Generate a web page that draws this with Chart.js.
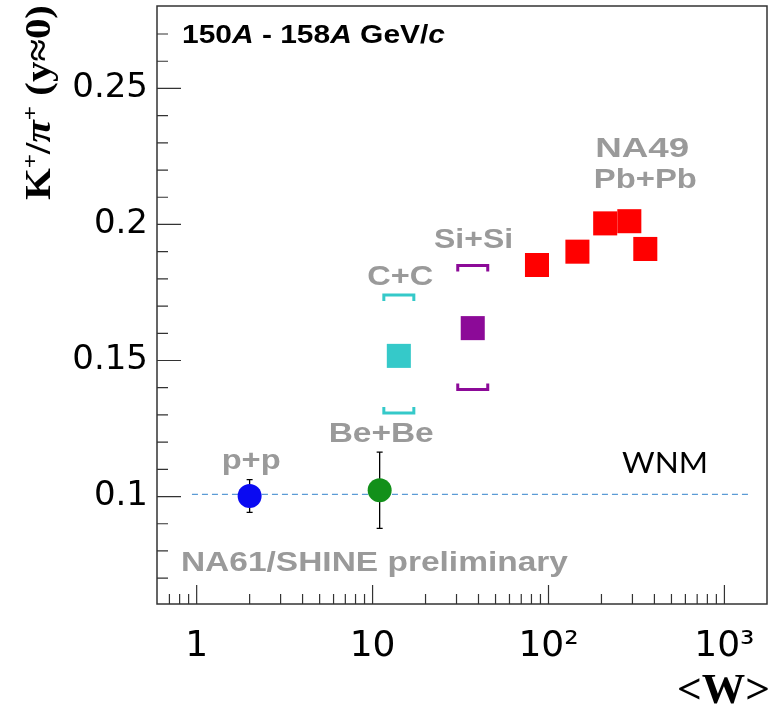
<!DOCTYPE html>
<html><head><meta charset="utf-8">
<script src="https://cdn.jsdelivr.net/npm/chart.js@4/dist/chart.umd.min.js"></script>
<style>html,body{margin:0;padding:0;background:#fff}#wrap{width:772px;height:707px}</style>
</head><body><div id="wrap"><canvas id="c" width="772" height="707"></canvas></div>
<script>
// ---- data ----
const ppW = [2.0],   ppRatio = [0.1002], ppErr = [0.0060];
const beW = [10.97], beRatio = [0.1023], beErr = [0.0140];
const ccW = [14.1],  ccRatio = [0.1517], ccSysHigh = [0.1741], ccSysLow = [0.1307];
const siW = [37.1],  siRatio = [0.1619], siSysHigh = [0.1849], siSysLow = [0.1393];
const pbW = [86, 146, 210, 288, 355];
const pbRatio = [0.1851, 0.1900, 0.2004, 0.2012, 0.1910];
const wnmW = [0.94, 1400], wnmRatio = [0.1008, 0.1008];

const xMajorTicks = [1, 10, 100, 1000];
const xTickLabels = ['1', '10', '10²', '10³'];
const xMinorTicks = [0.7,0.8,0.9,2,3,4,5,6,7,8,9,20,30,40,50,60,70,80,90,200,300,400,500,600,700,800,900];
const yMajorTicks = [0.1, 0.15, 0.2, 0.25];
const yTickLabels = ['0.1', '0.15', '0.2', '0.25'];
const yMinorTicks = [0.07,0.08,0.09,0.11,0.12,0.13,0.14,0.16,0.17,0.18,0.19,0.21,0.22,0.23,0.24,0.26,0.27];

// text annotations: [text, wValue, ratioValue, width]
const groupLabels = [
  ['p+p', 2.04, 0.1103, 59],
  ['Be+Be', 11.19, 0.1199, 105],
  ['C+C', 14.38, 0.1778, 66],
  ['Si+Si', 37.5, 0.1913, 79],
  ['NA49', 341, 0.2248, 94],
  ['Pb+Pb', 355, 0.2134, 103]
];

const pts = (xs, ys) => xs.map((x, i) => ({x: x, y: ys[i]}));

function fitText(ctx, text, x, y, font, color, width, align) {
  ctx.save();
  ctx.font = font; ctx.fillStyle = color; ctx.textBaseline = 'alphabetic'; ctx.textAlign = 'left';
  const w = ctx.measureText(text).width;
  const sx = width ? width / w : 1;
  const ww = w * sx;
  const x0 = align === 'center' ? x - ww / 2 : (align === 'right' ? x - ww : x);
  ctx.translate(x0, y); ctx.scale(sx, 1);
  ctx.fillText(text, 0, 0);
  ctx.restore();
}

function runsWidth(ctx, runs) {
  let w = 0;
  runs.forEach(r => { ctx.font = r.font; w += ctx.measureText(r.t).width; });
  return w;
}
function drawRuns(ctx, runs, x, y, width) {
  ctx.save();
  const w = runsWidth(ctx, runs);
  const sx = width / w;
  ctx.translate(x, y); ctx.scale(sx, 1);
  let cx = 0;
  ctx.textBaseline = 'alphabetic'; ctx.textAlign = 'left';
  runs.forEach(r => {
    ctx.font = r.font; ctx.fillStyle = r.color || '#000';
    ctx.fillText(r.t, cx, -(r.rise || 0));
    cx += ctx.measureText(r.t).width;
  });
  ctx.restore();
}

const decor = {
  id: 'decor',
  beforeDatasetsDraw(chart) {
    const ctx = chart.ctx, xs = chart.scales.x, ys = chart.scales.y;
    ctx.save();
    ctx.strokeStyle = '#000'; ctx.lineWidth = 1.3;
    const bar = (xv, yv, e) => {
      const px = xs.getPixelForValue(xv);
      const y1 = ys.getPixelForValue(yv + e), y2 = ys.getPixelForValue(yv - e);
      ctx.beginPath();
      ctx.moveTo(px, y1); ctx.lineTo(px, y2);
      ctx.moveTo(px - 3, y1); ctx.lineTo(px + 3, y1);
      ctx.moveTo(px - 3, y2); ctx.lineTo(px + 3, y2);
      ctx.stroke();
    };
    ppW.forEach((w, i) => bar(w, ppRatio[i], ppErr[i]));
    beW.forEach((w, i) => bar(w, beRatio[i], beErr[i]));
    ctx.restore();
  },
  afterDatasetsDraw(chart) {
    const ctx = chart.ctx, xs = chart.scales.x, ys = chart.scales.y;
    const bracket = (xv, hi, lo, color) => {
      const px = xs.getPixelForValue(xv);
      const yh = ys.getPixelForValue(hi), yl = ys.getPixelForValue(lo);
      ctx.save();
      ctx.strokeStyle = color; ctx.lineWidth = 3; ctx.lineJoin = 'miter';
      ctx.beginPath();
      ctx.moveTo(px - 15, yh + 6); ctx.lineTo(px - 15, yh); ctx.lineTo(px + 15, yh); ctx.lineTo(px + 15, yh + 6);
      ctx.moveTo(px - 15, yl - 6); ctx.lineTo(px - 15, yl); ctx.lineTo(px + 15, yl); ctx.lineTo(px + 15, yl - 6);
      ctx.stroke();
      ctx.restore();
    };
    ccW.forEach((w, i) => bracket(w, ccSysHigh[i], ccSysLow[i], '#35c9c9'));
    siW.forEach((w, i) => bracket(w, siSysHigh[i], siSysLow[i], '#8c0a98'));
  },
  afterDraw(chart) {
    const ctx = chart.ctx, xs = chart.scales.x, ys = chart.scales.y, a = chart.chartArea;
    ctx.save();
    ctx.strokeStyle = '#333'; ctx.lineWidth = 1.5;
    ctx.strokeRect(a.left, a.top, a.right - a.left, a.bottom - a.top);
    ctx.lineWidth = 1.2;
    ctx.beginPath();
    xMajorTicks.forEach(v => { const p = xs.getPixelForValue(v); ctx.moveTo(p, a.bottom); ctx.lineTo(p, a.bottom - 19); });
    xMinorTicks.forEach(v => { const p = xs.getPixelForValue(v); ctx.moveTo(p, a.bottom); ctx.lineTo(p, a.bottom - 10); });
    yMajorTicks.forEach(v => { const p = ys.getPixelForValue(v); ctx.moveTo(a.left, p); ctx.lineTo(a.left + 24, p); });
    yMinorTicks.forEach(v => { const p = ys.getPixelForValue(v); ctx.moveTo(a.left, p); ctx.lineTo(a.left + 11, p); });
    ctx.stroke();
    ctx.restore();

    groupLabels.forEach(l => {
      fitText(ctx, l[0], xs.getPixelForValue(l[1]), ys.getPixelForValue(l[2]),
        'bold 28px "Liberation Sans", Arial, sans-serif', '#9a9a9a', l[3], 'center');
    });
    fitText(ctx, 'NA61/SHINE preliminary', xs.getPixelForValue(0.814), ys.getPixelForValue(0.0727),
      'bold 28px "Liberation Sans", Arial, sans-serif', '#9a9a9a', 387, 'left');
    fitText(ctx, 'WNM', xs.getPixelForValue(262), ys.getPixelForValue(0.1087),
      '28px Lato, "Open Sans", sans-serif', '#000', 86, 'left');

    const B = 'bold 25px "Liberation Sans", Arial, sans-serif';
    const BI = 'italic bold 25px "Liberation Sans", Arial, sans-serif';
    drawRuns(ctx, [{t:'150', font:B}, {t:'A', font:BI}, {t:' - 158', font:B}, {t:'A', font:BI}, {t:' GeV/', font:B}, {t:'c', font:BI}],
      a.left + 25, a.top + 37, 263);

    const S = 'bold 36px "Liberation Serif", "Times New Roman", serif';
    const SS = 'bold 22px "Liberation Serif", "Times New Roman", serif';
    const SI = 'italic bold 36px "Liberation Serif", "Times New Roman", serif';
    ctx.save();
    ctx.translate(50, 200);
    ctx.rotate(-Math.PI / 2);
    drawRuns(ctx, [{t:'K', font:S}, {t:'+', font:SS, rise:13}, {t:'/', font:S}, {t:'π', font:SI}, {t:'+', font:SS, rise:13}, {t:' (y≈0)', font:S}],
      0, 0, 195);
    ctx.restore();

    fitText(ctx, '<W>', 770, 703, 'bold 42px "Liberation Serif", "Times New Roman", serif', '#000', 93, 'right');
  }
};

new Chart(document.getElementById('c'), {
  type: 'scatter',
  data: {
    datasets: [
      {label: 'WNM', type: 'line', data: pts(wnmW, wnmRatio), borderColor: '#5b9bd5', borderWidth: 1.2,
       borderDash: [6, 4], pointRadius: 0, fill: false, order: 10},
      {label: 'p+p', data: pts(ppW, ppRatio), pointStyle: 'circle', pointRadius: 12, backgroundColor: '#0a0af2', borderWidth: 0, order: 1},
      {label: 'Be+Be', data: pts(beW, beRatio), pointStyle: 'circle', pointRadius: 12, backgroundColor: '#12901a', borderWidth: 0, order: 1},
      {label: 'C+C', data: pts(ccW, ccRatio), pointStyle: 'rect', pointRadius: 17, backgroundColor: '#35c9c9', borderWidth: 0, order: 1},
      {label: 'Si+Si', data: pts(siW, siRatio), pointStyle: 'rect', pointRadius: 17, backgroundColor: '#8c0a98', borderWidth: 0, order: 1},
      {label: 'Pb+Pb', data: pts(pbW, pbRatio), pointStyle: 'rect', pointRadius: 17, backgroundColor: '#ff0000', borderWidth: 0, order: 1}
    ]
  },
  options: {
    responsive: false, animation: false, devicePixelRatio: 1,
    layout: {autoPadding: false, padding: {left: 0, right: 5, top: 6, bottom: 0}},
    plugins: {legend: {display: false}, tooltip: {enabled: false}},
    scales: {
      x: {
        type: 'logarithmic', min: 0.595, max: 1746,
        afterFit(s) { s.height = 103; s.paddingLeft = 0; s.paddingRight = 0; },
        afterBuildTicks(s) { s.ticks = xMajorTicks.map(v => ({value: v})); },
        ticks: {
          autoSkip: false, maxRotation: 0, minRotation: 0, padding: 21, color: '#000',
          font: {family: '"DejaVu Sans", sans-serif', size: 36},
          callback(v) { const i = xMajorTicks.indexOf(v); return i >= 0 ? xTickLabels[i] : ''; }
        },
        grid: {display: false, drawTicks: false},
        border: {display: false}
      },
      y: {
        type: 'linear', min: 0.0605, max: 0.2803,
        afterFit(s) { s.width = 157; s.paddingTop = 0; s.paddingBottom = 0; },
        afterBuildTicks(s) { s.ticks = yMajorTicks.map(v => ({value: v})); },
        ticks: {
          autoSkip: false, padding: 9, color: '#000',
          font: {family: '"DejaVu Sans", sans-serif', size: 34},
          callback(v) { const i = yMajorTicks.findIndex(t => Math.abs(t - v) < 1e-9); return i >= 0 ? yTickLabels[i] : ''; }
        },
        grid: {display: false, drawTicks: false},
        border: {display: false}
      }
    }
  },
  plugins: [decor]
});
</script></body></html>
